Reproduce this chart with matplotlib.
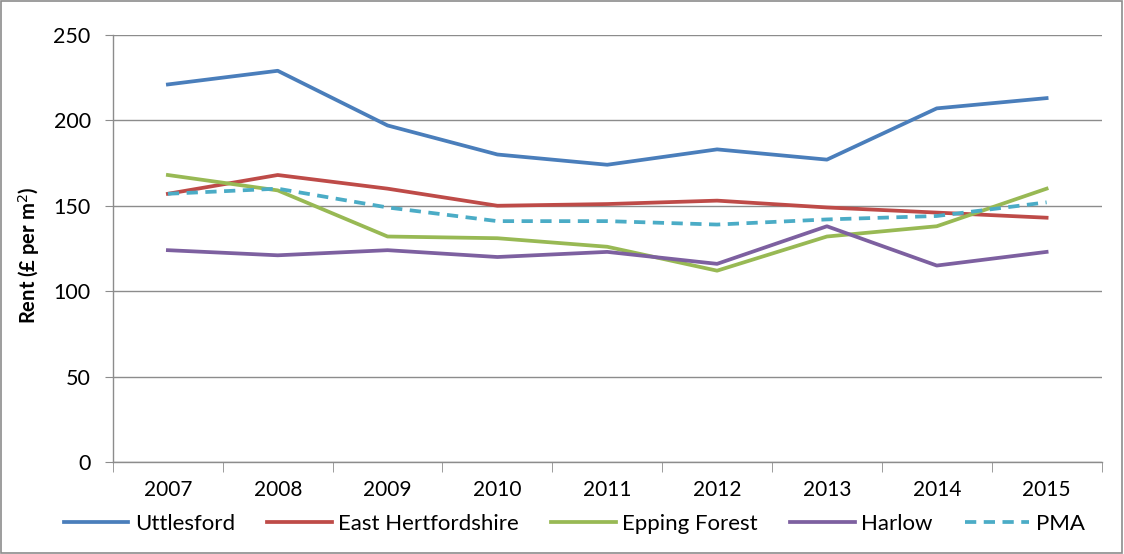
import matplotlib
matplotlib.use("Agg")
import matplotlib.pyplot as plt
from matplotlib.patches import Rectangle
from matplotlib.ticker import MultipleLocator, FixedLocator

plt.rcParams['font.family'] = ['Lato', 'DejaVu Sans']

years = ['2007', '2008', '2009', '2010', '2011', '2012', '2013', '2014', '2015']
uttlesford = [221, 229, 197, 180, 174, 183, 177, 207, 213]
east_herts = [157, 168, 160, 150, 151, 153, 149, 146, 143]
epping = [168, 159, 132, 131, 126, 112, 132, 138, 160]
harlow = [124, 121, 124, 120, 123, 116, 138, 115, 123]
pma = [157, 160, 149, 141, 141, 139, 142, 144, 152]

fig = plt.figure(figsize=(11.24, 5.54), dpi=100)
ax = fig.add_axes([0.1005, 0.166, 0.8795, 0.771])

x = range(len(years))
ax.plot(x, uttlesford, color='#4A7EBB', lw=2.7, label='Uttlesford')
ax.plot(x, east_herts, color='#BE4B48', lw=2.7, label='East Hertfordshire')
ax.plot(x, epping, color='#98B954', lw=2.7, label='Epping Forest')
ax.plot(x, harlow, color='#7D60A0', lw=2.7, label='Harlow')
ax.plot(x, pma, color='#4BACC6', lw=2.7, ls=(0, (3, 2)), label='PMA')

ax.set_xlim(-0.5, len(years) - 0.5)
ax.set_ylim(0, 250)
ax.yaxis.set_major_locator(MultipleLocator(50))
ax.grid(axis='y', color='#8C8C8C', lw=1)
ax.set_axisbelow(True)

ax.set_xticks(list(x))
ax.set_xticklabels(years)
ax.xaxis.set_minor_locator(FixedLocator([i - 0.5 for i in range(len(years) + 1)]))
ax.tick_params(axis='x', which='major', length=0, pad=13, labelsize=15, colors='#000000')
ax.tick_params(axis='x', which='minor', length=7, color='#8C8C8C')
ax.tick_params(axis='y', length=6, color='#8C8C8C', labelsize=15.5, pad=10)

for s in ['top', 'right']:
    ax.spines[s].set_visible(False)
for s in ['left', 'bottom']:
    ax.spines[s].set_color('#8C8C8C')
    ax.spines[s].set_linewidth(1)

ax.set_ylabel('Rent (£ per m$^2$)', fontsize=14.5, fontweight='bold')
ax.yaxis.set_label_coords(-0.072, 0.485)

# legend row under the x labels, centred on the whole figure
fig.legend(loc='center', bbox_to_anchor=(0.511, 0.054), ncol=5, frameon=False,
           fontsize=16, handlelength=2.9, handletextpad=0.3, columnspacing=1.45)

fig.patches.append(Rectangle((0.001, 0.002), 0.997, 0.996, transform=fig.transFigure,
                             fill=False, edgecolor='#8C8C8C', lw=1.2))

fig.savefig('out.png', dpi=100)
